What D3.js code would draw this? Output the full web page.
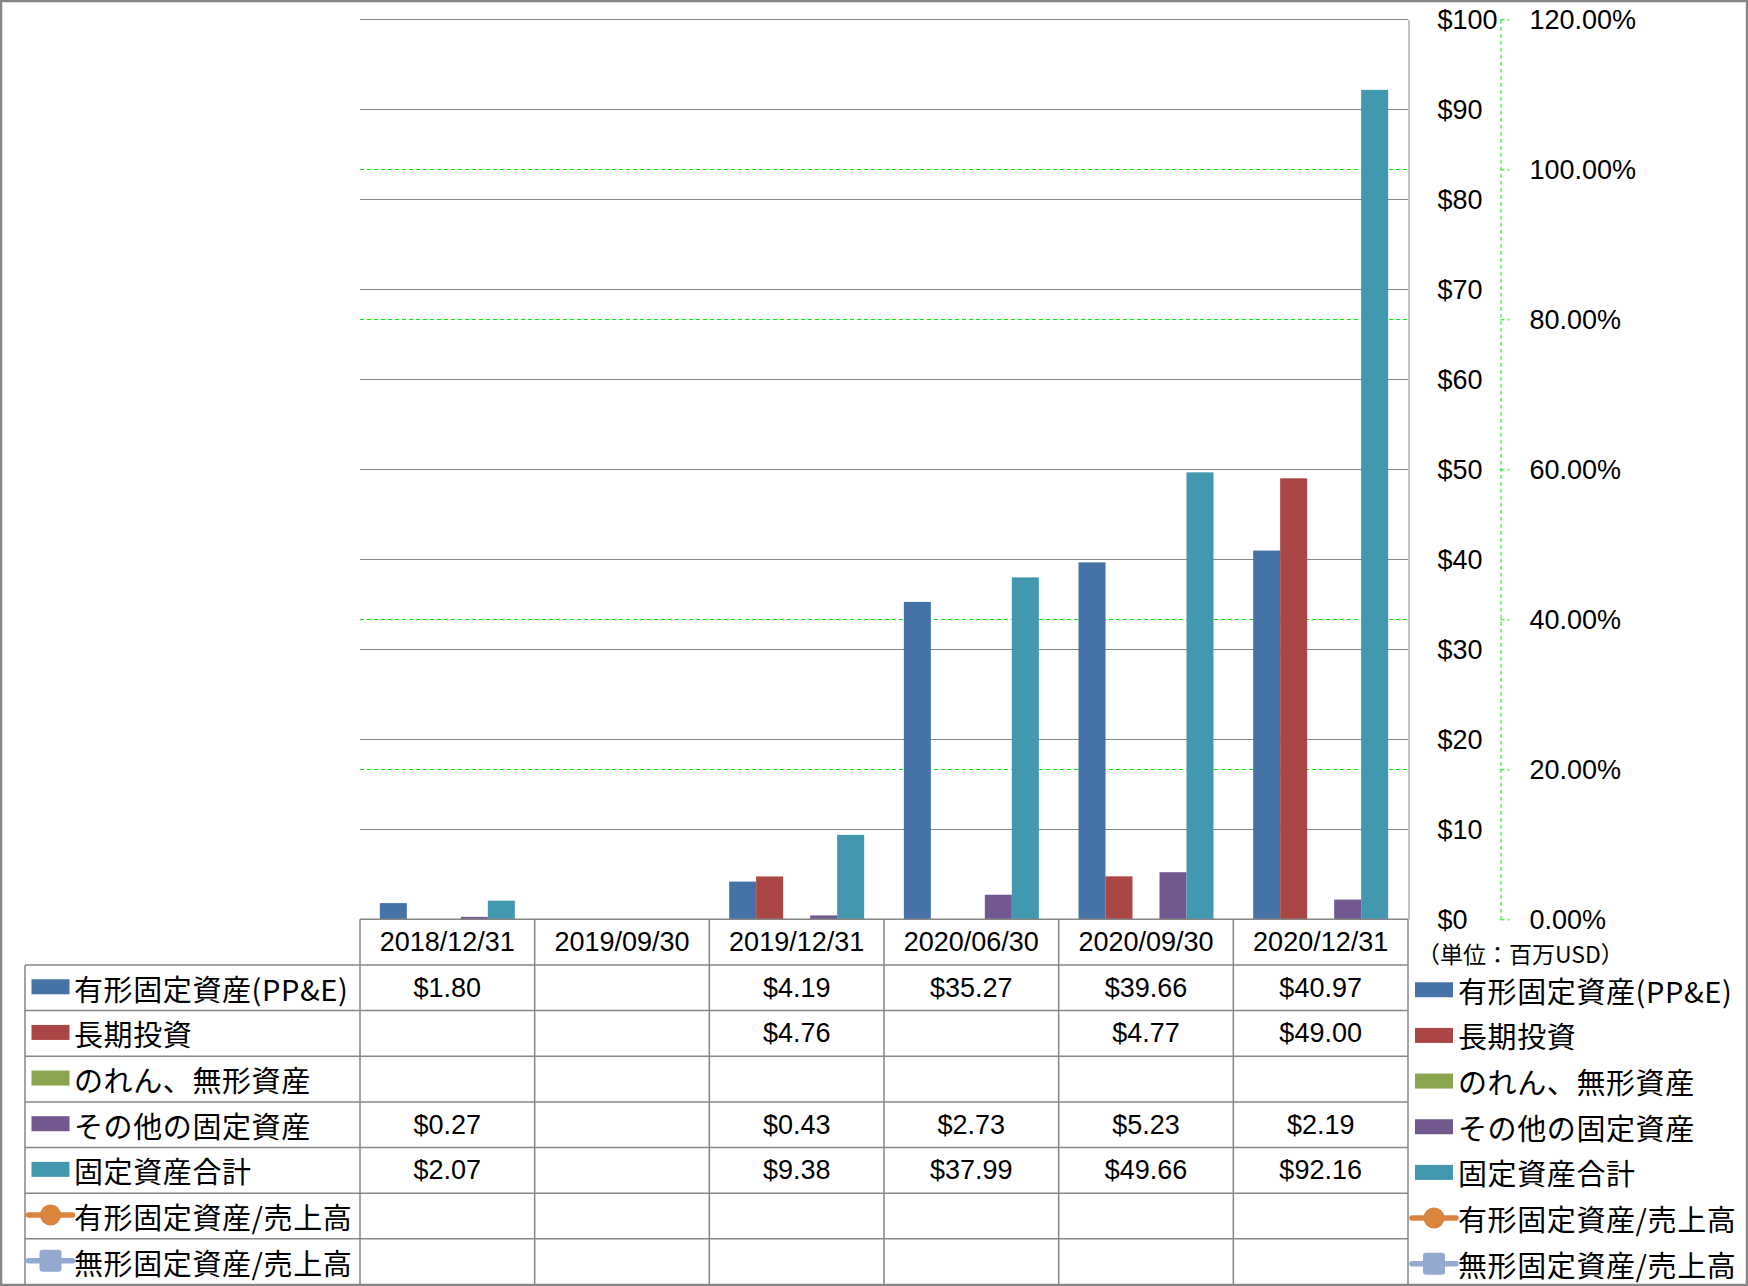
<html>
<head>
<meta charset="utf-8">
<script src="https://cdnjs.cloudflare.com/ajax/libs/d3/7.8.5/d3.min.js"></script>
<style>
body { margin: 0; background: #fff; }
svg { display: block; }
.num { font-family: "Liberation Sans", Arial, sans-serif; font-size: 27px; fill: #000; }
.jp { font-family: "Noto Sans CJK JP", sans-serif; font-size: 29px; fill: #000; letter-spacing: 0.6px; }
</style>
</head>
<body>
<div id="chart"></div>
<script>

var categories = ["2018/12/31", "2019/09/30", "2019/12/31", "2020/06/30", "2020/09/30", "2020/12/31"];
var seriesNames = ["有形固定資産(PP&E)", "長期投資", "のれん、無形資産", "その他の固定資産", "固定資産合計", "有形固定資産/売上高", "無形固定資産/売上高"];
var seriesColors = ["#4572A7", "#AA4643", "#89A54E", "#71588F", "#4198AF", "#DB843D", "#93A9CF"];
var seriesKinds = ["bar", "bar", "bar", "bar", "bar", "circle", "square"];

// values in million USD, null = no data
var ppe = [1.80, null, 4.19, 35.27, 39.66, 40.97];
var longInvest = [null, null, 4.76, null, 4.77, 49.00];
var goodwill = [null, null, null, null, null, null];
var otherFixed = [0.27, null, 0.43, 2.73, 5.23, 2.19];
var totalFixed = [2.07, null, 9.38, 37.99, 49.66, 92.16];
var ppeRatio = [null, null, null, null, null, null];
var intangibleRatio = [null, null, null, null, null, null];

var yTicks = [0, 10, 20, 30, 40, 50, 60, 70, 80, 90, 100];
var y2Ticks = [0, 0.2, 0.4, 0.6, 0.8, 1.0, 1.2];

var seriesValues = [ppe, longInvest, goodwill, otherFixed, totalFixed, ppeRatio, intangibleRatio];
var barCount = 5;

var width = 1748, height = 1286;
var plotLeft = 360, plotRight = 1408, plotTop = 19.3, plotBottom = 919.3;
var tableLeft = 25;
var rowH = (1284.5 - plotBottom) / 8;
var lineGrey = "#868686";

var svg = d3.select("#chart").append("svg")
.attr("width", width).attr("height", height);

var x = d3.scaleBand().domain(categories).range([plotLeft, plotRight]);
var xs = d3.scaleBand().domain(d3.range(barCount)).range([0, x.bandwidth()])
.paddingInner(0).paddingOuter(0.735);
var y = d3.scaleLinear().domain([0, 100]).range([plotBottom, plotTop]);
var y2 = d3.scaleLinear().domain([0, 1.2]).range([plotBottom, plotTop]);

// secondary (percent) gridlines, green dashed
svg.append("g").selectAll("line").data(y2Ticks.slice(1, -1)).enter()
.append("line")
.attr("x1", plotLeft).attr("x2", plotRight)
.attr("y1", function (d) { return Math.round(y2(d)) + 0.5; })
.attr("y2", function (d) { return Math.round(y2(d)) + 0.5; })
.style("stroke", "#00ee00").style("stroke-dasharray", "4,3");

// primary gridlines
svg.append("g").selectAll("line").data(yTicks.slice(1)).enter()
.append("line")
.attr("x1", plotLeft).attr("x2", plotRight)
.attr("y1", function (d) { return Math.round(y(d)) + 0.5; })
.attr("y2", function (d) { return Math.round(y(d)) + 0.5; })
.style("stroke", lineGrey);

// bars
var barData = [];
categories.forEach(function (c, i) {
	for (var s = 0; s < barCount; s++) {
		var v = seriesValues[s][i];
		if (v != null) barData.push({ cat: c, s: s, v: v });
	}
});

svg.append("g").selectAll("rect").data(barData).enter()
.append("rect")
.attr("x", function (d) { return x(d.cat) + xs(d.s); })
.attr("width", xs.bandwidth())
.attr("y", function (d) { return y(d.v); })
.attr("height", function (d) { return plotBottom - y(d.v); })
.style("fill", function (d) { return seriesColors[d.s]; });

// primary axis on the right
var yAxis = d3.axisRight(y).tickValues(yTicks).tickFormat(function (d) { return "$" + d; })
.tickSize(0).tickPadding(29);
var ya = svg.append("g").attr("transform", "translate(" + (plotRight + 0.5) + ",0)").call(yAxis);
ya.select(".domain").style("stroke", lineGrey);
ya.selectAll("text").attr("class", "num").attr("dy", "0.35em");
ya.attr("font-size", null).attr("font-family", null);

// secondary axis
var y2Axis = d3.axisRight(y2).tickValues(y2Ticks).tickFormat(d3.format(".2%"))
.tickSize(9).tickSizeOuter(0).tickPadding(20);
var y2a = svg.append("g").attr("transform", "translate(" + 1500.5 + ",0)").call(y2Axis);
y2a.select(".domain").style("stroke", "#00ee00").style("stroke-dasharray", "4,3");
y2a.selectAll(".tick line").style("stroke", "#00ee00").style("stroke-dasharray", "4,3");
y2a.selectAll("text").attr("class", "num").attr("dy", "0.35em");
y2a.attr("font-size", null).attr("font-family", null);

// unit label
svg.append("text").attr("class", "jp").attr("x", 1417).attr("y", 953)
.attr("dominant-baseline", "central").style("font-size", "23px").style("letter-spacing", "0px")
.text("（単位：百万USD）");

// data table lines
var table = svg.append("g").style("stroke", lineGrey).style("stroke-width", 1.5);
var bounds = categories.map(function (c) { return x(c); }).concat([plotRight]);
table.selectAll("line.v").data(bounds).enter().append("line")
.attr("x1", function (d) { return d; }).attr("x2", function (d) { return d; })
.attr("y1", plotBottom).attr("y2", plotBottom + 8 * rowH);
table.append("line").attr("x1", tableLeft).attr("x2", tableLeft)
.attr("y1", plotBottom + rowH).attr("y2", plotBottom + 8 * rowH);
table.append("line").attr("x1", plotLeft).attr("x2", plotRight)
.attr("y1", plotBottom).attr("y2", plotBottom);
table.selectAll("line.h").data(d3.range(1, 8)).enter().append("line")
.attr("x1", tableLeft).attr("x2", plotRight)
.attr("y1", function (d) { return plotBottom + d * rowH; })
.attr("y2", function (d) { return plotBottom + d * rowH; });

// category header
svg.append("g").selectAll("text").data(categories).enter()
.append("text").attr("class", "num")
.attr("x", function (d) { return x(d) + x.bandwidth() / 2; })
.attr("y", plotBottom + rowH / 2)
.attr("text-anchor", "middle").attr("dominant-baseline", "central")
.text(function (d) { return d; });

// table values
var fmt = d3.format(".2f");
seriesValues.forEach(function (vals, s) {
	var cy = plotBottom + (s + 1.5) * rowH;
	var cells = vals.map(function (v, i) { return { cat: categories[i], v: v }; })
	.filter(function (d) { return d.v != null; });
	svg.append("g").selectAll("text").data(cells).enter()
	.append("text").attr("class", "num")
	.attr("x", function (d) { return x(d.cat) + x.bandwidth() / 2; })
	.attr("y", cy)
	.attr("text-anchor", "middle").attr("dominant-baseline", "central")
	.text(function (d) { return "$" + fmt(d.v); });
});

// legend key drawer
function drawKey(g, s, cx, cy) {
	var col = seriesColors[s];
	if (seriesKinds[s] == "bar") {
		g.append("rect").attr("x", cx - 19).attr("y", cy - 7.5).attr("width", 38).attr("height", 15).style("fill", col);
	} else {
		g.append("line").attr("x1", cx - 22).attr("x2", cx + 22).attr("y1", cy).attr("y2", cy)
		.style("stroke", col).style("stroke-width", 5.5).style("stroke-linecap", "round");
		if (seriesKinds[s] == "circle") {
			g.append("circle").attr("cx", cx).attr("cy", cy).attr("r", 10.5).style("fill", col);
		} else {
			g.append("rect").attr("x", cx - 11).attr("y", cy - 11).attr("width", 22).attr("height", 22)
			.attr("rx", 3).style("fill", col);
		}
	}
}

// table row labels (left) and legend (right)
seriesNames.forEach(function (name, s) {
	var cy = plotBottom + (s + 1.5) * rowH;
	var left = svg.append("g");
	drawKey(left, s, 50.5, cy - 1);
	left.append("text").attr("class", "jp").attr("x", 74).attr("y", cy)
	.attr("dominant-baseline", "central").text(name);

	var right = svg.append("g");
	drawKey(right, s, 1434, cy + 2);
	right.append("text").attr("class", "jp").attr("x", 1458).attr("y", cy + 2)
	.attr("dominant-baseline", "central").text(name);
});

// chart border
svg.append("rect").attr("x", 1).attr("y", 1).attr("width", width - 2).attr("height", height - 2)
.style("fill", "none").style("stroke", lineGrey).style("stroke-width", 2.5);

</script>
</body>
</html>
